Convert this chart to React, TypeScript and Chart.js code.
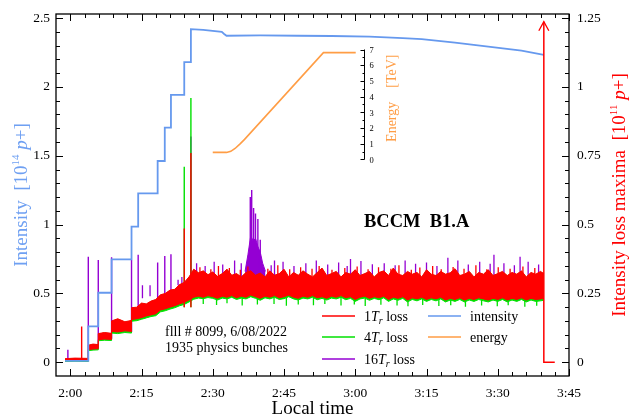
import React, { useEffect, useRef } from 'react';
import { Chart, registerables } from 'chart.js';
Chart.register(...registerables);

// ---------- axis ranges & ticks (minutes after 2:00) ----------
const X_RANGE = [-3, 105];
const X_TICK_VALUES = [0, 15, 30, 45, 60, 75, 90, 105];
const X_TICK_LABELS = ['2:00', '2:15', '2:30', '2:45', '3:00', '3:15', '3:30', '3:45'];
const LEFT_RANGE = [-0.1, 2.53];
const LEFT_TICK_VALUES = [0, 0.5, 1, 1.5, 2, 2.5];
const LEFT_TICK_LABELS = ['0', '0.5', '1', '1.5', '2', '2.5'];
const RIGHT_RANGE = [-0.05, 1.265];
const RIGHT_TICK_VALUES = [0, 0.25, 0.5, 0.75, 1, 1.25];
const RIGHT_TICK_LABELS = ['0', '0.25', '0.5', '0.75', '1', '1.25'];
const ENERGY_RANGE = [-13.78, 9.26];
const ENERGY_TICK_VALUES = [0, 1, 2, 3, 4, 5, 6, 7];
const ENERGY_TICK_LABELS = ['0', '1', '2', '3', '4', '5', '6', '7'];
const ENERGY_AXIS_T = 61.8;

// ---------- intensity [1e14 p+] ----------
const INJ_TIMES = [-1.1, 3.8, 5.9, 8.7, 12.9, 14.3, 18.4, 19.9, 21.2, 24.0, 25.4];
const INJ_LEVELS = [0.01, 0.26, 0.505, 0.748, 0.985, 1.227, 1.462, 1.704, 1.942, 2.18, 2.42];
const INT_TAIL_T = [28, 31.9, 32.4, 32.9, 40, 48, 55, 63, 70, 74, 81, 88, 95, 99.7];
const INT_TAIL_V = [2.415, 2.40, 2.385, 2.372, 2.374, 2.372, 2.37, 2.365, 2.355, 2.347, 2.322, 2.293, 2.264, 2.233];

// ---------- energy [TeV] ----------
const ENERGY_T = [30.0, 32.9, 33.8, 34.7, 35.7, 36.7, 53.3, 60.1];
const ENERGY_V = [0.45, 0.45, 0.52, 0.7, 0.98, 1.28, 6.8, 6.8];

// ---------- loss maxima envelopes [1e11 p+] ----------
const LOSS_T = [
  -1.1, 1.0, 3.8, 3.8, 4.8, 5.9, 5.9, 7.2, 8.7, 8.7, 10.0, 11.5, 12.9, 12.9,
  14, 15, 16, 17, 18, 19, 20, 21, 22, 23,
  24, 25, 26, 27, 28, 29, 30, 31, 32, 33,
  34, 35, 36, 37, 38, 39, 40, 41, 42, 43,
  44, 45, 46, 47, 48, 49, 50, 51, 52, 53,
  54, 55, 56, 57, 58, 59, 60, 61, 62, 63,
  64, 65, 66, 67, 68, 69, 70, 71, 72, 73,
  74, 75, 76, 77, 78, 79, 80, 81, 82, 83,
  84, 85, 86, 87, 88, 89, 90, 91, 92, 93,
  94, 95, 96, 97, 98, 99, 99.7,
];
const RED_HI = [
  0.013, 0.015, 0.014, 0.062, 0.066, 0.064, 0.104, 0.108, 0.105, 0.150, 0.158, 0.147, 0.152, 0.198,
  0.200, 0.215, 0.212, 0.222, 0.228, 0.245, 0.250, 0.262, 0.265, 0.282,
  0.290, 0.310, 0.338, 0.325, 0.332, 0.318, 0.328, 0.312, 0.322, 0.338,
  0.316, 0.322, 0.310, 0.326, 0.332, 0.316, 0.324, 0.310, 0.332, 0.316,
  0.322, 0.338, 0.310, 0.326, 0.316, 0.332, 0.320, 0.310, 0.326, 0.342,
  0.315, 0.322, 0.330, 0.310, 0.326, 0.320, 0.336, 0.315, 0.322, 0.330,
  0.310, 0.326, 0.332, 0.315, 0.342, 0.320, 0.315, 0.330, 0.320, 0.326,
  0.310, 0.336, 0.320, 0.315, 0.330, 0.320, 0.325, 0.340, 0.315, 0.320,
  0.330, 0.310, 0.326, 0.320, 0.336, 0.315, 0.322, 0.330, 0.315, 0.326,
  0.320, 0.332, 0.310, 0.326, 0.320, 0.330, 0.322,
];
const RED_LO = [
  0.006, 0.007, 0.006, 0.046, 0.048, 0.049, 0.082, 0.084, 0.083, 0.112, 0.110, 0.114, 0.112, 0.155,
  0.158, 0.162, 0.168, 0.172, 0.176, 0.190, 0.194, 0.200, 0.205, 0.212,
  0.218, 0.226, 0.236, 0.240, 0.236, 0.242, 0.238, 0.232, 0.240, 0.236,
  0.242, 0.234, 0.240, 0.236, 0.244, 0.238, 0.232, 0.240, 0.236, 0.242,
  0.234, 0.238, 0.244, 0.236, 0.232, 0.240, 0.236, 0.242, 0.234, 0.238,
  0.232, 0.240, 0.236, 0.242, 0.234, 0.238, 0.228, 0.236, 0.240, 0.232,
  0.238, 0.234, 0.240, 0.228, 0.236, 0.232, 0.238, 0.226, 0.234, 0.230,
  0.236, 0.228, 0.234, 0.230, 0.236, 0.226, 0.232, 0.228, 0.234, 0.226,
  0.232, 0.228, 0.234, 0.230, 0.226, 0.232, 0.228, 0.234, 0.226, 0.232,
  0.228, 0.234, 0.226, 0.232, 0.228, 0.230, 0.232,
];
const GREEN_LO = [
  0.003, 0.004, 0.003, 0.042, 0.044, 0.045, 0.078, 0.080, 0.079, 0.106, 0.104, 0.108, 0.106, 0.149,
  0.151, 0.156, 0.161, 0.166, 0.169, 0.183, 0.187, 0.193, 0.198, 0.205,
  0.210, 0.219, 0.229, 0.233, 0.231, 0.235, 0.232, 0.226, 0.233, 0.230,
  0.236, 0.228, 0.233, 0.230, 0.238, 0.232, 0.225, 0.234, 0.230, 0.236,
  0.228, 0.231, 0.238, 0.230, 0.226, 0.233, 0.230, 0.236, 0.227, 0.232,
  0.226, 0.233, 0.230, 0.236, 0.227, 0.232, 0.221, 0.230, 0.233, 0.225,
  0.232, 0.227, 0.234, 0.221, 0.230, 0.225, 0.232, 0.219, 0.228, 0.223,
  0.230, 0.221, 0.228, 0.223, 0.230, 0.219, 0.226, 0.221, 0.228, 0.219,
  0.226, 0.221, 0.228, 0.223, 0.219, 0.226, 0.221, 0.228, 0.219, 0.226,
  0.221, 0.228, 0.219, 0.226, 0.221, 0.223, 0.225,
];

// purple cluster around 2:38
const CLUSTER_T = [36.8, 37.4, 38.0, 38.5, 39.0, 39.5, 40.0, 40.5, 41.1];
const CLUSTER_HI = [0.33, 0.39, 0.46, 0.44, 0.45, 0.42, 0.40, 0.36, 0.33];
const CLUSTER_LO = [0.30, 0.30, 0.30, 0.30, 0.30, 0.30, 0.30, 0.30, 0.30];

// ---------- isolated loss spikes ----------
const PURPLE_SPIKE_T = [-0.5, 3.8, 5.9, 8.7, 12.9, 14.3, 18.4, 19.9, 21.2, 25.4, 37.9, 38.2, 38.6, 39.0, 39.5, 40.0];
const PURPLE_SPIKE_BASE = [0.004, 0.01, 0.05, 0.085, 0.11, 0.16, 0.18, 0.19, 0.2, 0.25, 0.3, 0.3, 0.3, 0.3, 0.3, 0.3];
const PURPLE_SPIKE_TOP = [0.045, 0.383, 0.371, 0.381, 0.371, 0.39, 0.362, 0.386, 0.392, 0.82, 0.6, 0.626, 0.56, 0.54, 0.52, 0.445];
const GREEN_SPIKE_T = [24.0, 25.4];
const GREEN_SPIKE_BASE = [0.2, 0.2];
const GREEN_SPIKE_TOP = [0.71, 0.96];
const RED_SPIKE_T = [2.4, 24.0, 25.4];
const RED_SPIKE_BASE = [0.006, 0.2, 0.2];
const RED_SPIKE_TOP = [0.13, 0.486, 0.76];

// noise tips poking out of the dense band
const PURPLE_TIP_T = [15.2, 16.8, 22.7, 23.5, 26.6, 28.4, 30.3, 32.1, 34.6, 36.0, 42.3, 43.0, 44.8, 47.1, 49.6, 51.8, 54.2, 56.5, 58.3, 59.0, 61.2, 63.6, 66.1, 68.4, 70.5, 72.7, 75.0, 77.2, 79.5, 81.6, 83.8, 86.2, 88.4, 89.2, 91.3, 93.5, 94.7, 96.4, 98.6];
const PURPLE_TIP_TOP = [0.232, 0.24, 0.30, 0.31, 0.36, 0.35, 0.365, 0.355, 0.37, 0.36, 0.352, 0.37, 0.365, 0.35, 0.36, 0.37, 0.355, 0.362, 0.35, 0.375, 0.368, 0.356, 0.36, 0.352, 0.37, 0.358, 0.362, 0.35, 0.38, 0.37, 0.355, 0.365, 0.358, 0.39, 0.36, 0.352, 0.383, 0.365, 0.355];
const RED_TIP_T = [27.3, 29.6, 31.2, 33.5, 35.8, 37.4, 41.6, 43.7, 46.2, 48.5, 50.9, 52.4, 55.1, 57.8, 60.4, 62.7, 64.9, 67.5, 69.2, 71.8, 73.6, 76.3, 78.1, 80.6, 82.9, 85.4, 87.7, 90.1, 92.6, 95.3, 97.8];
const RED_TIP_TOP = [0.345, 0.338, 0.35, 0.342, 0.336, 0.348, 0.34, 0.352, 0.338, 0.345, 0.34, 0.35, 0.336, 0.342, 0.348, 0.338, 0.345, 0.34, 0.352, 0.336, 0.344, 0.35, 0.338, 0.346, 0.34, 0.352, 0.338, 0.345, 0.34, 0.348, 0.342];
const GREEN_TIP_T = [28.0, 30.8, 33.0, 36.2, 39.4, 42.9, 45.5, 48.0, 51.2, 53.6, 57.0, 59.8, 62.1, 65.4, 68.8, 71.1, 74.2, 77.6, 80.1, 83.2, 86.6, 89.9, 92.2, 95.7, 98.2];
const GREEN_TIP_BOTTOM = [0.212, 0.208, 0.214, 0.206, 0.21, 0.212, 0.205, 0.21, 0.207, 0.212, 0.206, 0.21, 0.204, 0.209, 0.206, 0.203, 0.208, 0.204, 0.207, 0.202, 0.206, 0.203, 0.207, 0.202, 0.205];
const TIP_BASE = 0.28;

// beam dump: loss off-scale, then zero
const DUMP_T = [99.7, 99.7, 102.0];
const DUMP_V = [1.237, 0, 0];

// ---------- styling ----------
const SERIF = '"Liberation Serif", "DejaVu Serif", serif';
const C_BLUE = '#6699ee';
const C_RED = '#ff0000';
const C_GREEN = '#00e000';
const C_PURPLE = '#9400d3';
const C_ORANGE = '#ff9d45';

type Pt = { x: number; y: number | null };
const zip = (ts: number[], vs: number[]): Pt[] => ts.map((t, i) => ({ x: t, y: vs[i] }));
const spikes = (ts: number[], b: number[] | number, tp: number[]): Pt[] =>
  ts.flatMap((t, i) => [{ x: t, y: Array.isArray(b) ? b[i] : b }, { x: t, y: tp[i] }, { x: t, y: null }]);
const stepped = (): Pt[] => {
  const pts: Pt[] = [];
  INJ_TIMES.forEach((t, i) => {
    if (i > 0) pts.push({ x: t, y: INJ_LEVELS[i - 1] });
    pts.push({ x: t, y: INJ_LEVELS[i] });
  });
  INT_TAIL_T.forEach((t, i) => pts.push({ x: t, y: INT_TAIL_V[i] }));
  return pts;
};

type Seg = { t: string; f: string; dy?: number };
function richWidth(ctx: CanvasRenderingContext2D, segs: Seg[]) {
  let w = 0;
  for (const s of segs) { ctx.font = s.f; w += ctx.measureText(s.t).width; }
  return w;
}
function drawRich(ctx: CanvasRenderingContext2D, segs: Seg[], x: number, y: number, center: boolean) {
  let cx = center ? x - richWidth(ctx, segs) / 2 : x;
  for (const s of segs) {
    ctx.font = s.f;
    ctx.fillText(s.t, cx, y + (s.dy || 0));
    cx += ctx.measureText(s.t).width;
  }
}

const overlay = {
  id: 'overlay',
  afterDraw(chart: any) {
    const { ctx, chartArea: a, scales } = chart;
    const xs = scales.x, yl = scales.y, yr = scales.y2, ye = scales.yE;
    ctx.save();
    // frame
    ctx.strokeStyle = '#000';
    ctx.lineWidth = 1.3;
    ctx.strokeRect(a.left, a.top, a.right - a.left, a.bottom - a.top);
    ctx.lineWidth = 1;
    ctx.beginPath();
    for (let m = 0; m <= 105; m += 3) {
      const px = Math.round(xs.getPixelForValue(m)) + 0.5;
      const len = m % 15 === 0 ? 7 : 4;
      ctx.moveTo(px, a.bottom); ctx.lineTo(px, a.bottom - len);
      ctx.moveTo(px, a.top); ctx.lineTo(px, a.top + len);
    }
    for (let i = 0; i <= 25; i++) {
      const py = Math.round(yl.getPixelForValue(i / 10)) + 0.5;
      const len = i % 5 === 0 ? 7 : 4;
      ctx.moveTo(a.left, py); ctx.lineTo(a.left + len, py);
    }
    for (let i = 0; i <= 25; i++) {
      const py = Math.round(yr.getPixelForValue(i * 0.05)) + 0.5;
      const len = i % 5 === 0 ? 7 : 4;
      ctx.moveTo(a.right, py); ctx.lineTo(a.right - len, py);
    }
    ctx.stroke();

    // tick labels
    ctx.fillStyle = '#000';
    ctx.font = `13.5px ${SERIF}`;
    ctx.textBaseline = 'middle';
    ctx.textAlign = 'center';
    X_TICK_VALUES.forEach((v, i) => ctx.fillText(X_TICK_LABELS[i], xs.getPixelForValue(v), a.bottom + 17));
    ctx.textAlign = 'right';
    LEFT_TICK_VALUES.forEach((v, i) => ctx.fillText(LEFT_TICK_LABELS[i], a.left - 6, yl.getPixelForValue(v)));
    ctx.textAlign = 'left';
    RIGHT_TICK_VALUES.forEach((v, i) => ctx.fillText(RIGHT_TICK_LABELS[i], a.right + 8, yr.getPixelForValue(v)));

    // axis titles
    ctx.fillStyle = '#000';
    ctx.font = `19px ${SERIF}`;
    ctx.textAlign = 'center';
    ctx.fillText('Local time', (a.left + a.right) / 2, 409);
    ctx.textAlign = 'left';

    const big = `19px ${SERIF}`, bigI = `italic 19px ${SERIF}`, sup = `11px ${SERIF}`;
    ctx.save();
    ctx.translate(22, 195);
    ctx.rotate(-Math.PI / 2);
    ctx.fillStyle = '#6fa0f2';
    drawRich(ctx, [{ t: 'Intensity  [10', f: big }, { t: '14', f: sup, dy: -6 }, { t: ' ', f: big }, { t: 'p', f: bigI }, { t: '+]', f: big }], 0, 0, true);
    ctx.restore();

    ctx.save();
    ctx.translate(620, 195);
    ctx.rotate(-Math.PI / 2);
    ctx.fillStyle = C_RED;
    drawRich(ctx, [{ t: 'Intensity loss maxima  [10', f: big }, { t: '11', f: sup, dy: -6 }, { t: ' ', f: big }, { t: 'p', f: bigI }, { t: '+]', f: big }], 0, 0, true);
    ctx.restore();

    // energy inset axis
    const ex = Math.round(xs.getPixelForValue(ENERGY_AXIS_T)) + 0.5;
    ctx.strokeStyle = '#000';
    ctx.lineWidth = 1;
    ctx.beginPath();
    ctx.moveTo(ex, ye.getPixelForValue(0));
    ctx.lineTo(ex, ye.getPixelForValue(7));
    for (let i = 0; i <= 14; i++) {
      const py = Math.round(ye.getPixelForValue(i * 0.5)) + 0.5;
      const len = i % 2 === 0 ? 4 : 2;
      ctx.moveTo(ex, py); ctx.lineTo(ex - len, py);
    }
    ctx.stroke();
    ctx.fillStyle = '#000';
    ctx.font = `8.5px ${SERIF}`;
    ctx.textAlign = 'left';
    ENERGY_TICK_VALUES.forEach((v, i) => ctx.fillText(ENERGY_TICK_LABELS[i], ex + 5, ye.getPixelForValue(v) + 1));
    ctx.save();
    ctx.translate(ex + 28, ye.getPixelForValue(3.9));
    ctx.rotate(-Math.PI / 2);
    ctx.fillStyle = C_ORANGE;
    ctx.font = `14px ${SERIF}`;
    ctx.textAlign = 'center';
    ctx.fillText('Energy    [TeV]', 0, 0);
    ctx.restore();

    // dump arrow
    const dx = xs.getPixelForValue(DUMP_T[0]);
    const dy = yr.getPixelForValue(DUMP_V[0]);
    ctx.strokeStyle = C_RED;
    ctx.lineWidth = 1.3;
    ctx.beginPath();
    ctx.moveTo(dx - 5, dy + 9); ctx.lineTo(dx, dy); ctx.lineTo(dx + 5, dy + 9);
    ctx.stroke();

    // annotations
    ctx.fillStyle = '#000';
    ctx.textAlign = 'left';
    ctx.textBaseline = 'alphabetic';
    ctx.font = `bold 18.5px ${SERIF}`;
    ctx.fillText('BCCM  B1.A', 364, 227);
    ctx.font = `14px ${SERIF}`;
    ctx.fillText('flll # 8099, 6/08/2022', 165, 336);
    ctx.fillText('1935 physics bunches', 165, 352);

    // legend
    const n = `14px ${SERIF}`, it = `italic 14px ${SERIF}`, sub = `italic 10px ${SERIF}`;
    const leg: { c: string; x: number; y: number; segs: Seg[] }[] = [
      { c: C_RED, x: 322, y: 316, segs: [{ t: '1', f: n }, { t: 'T', f: it }, { t: 'r', f: sub, dy: 3 }, { t: ' loss', f: n }] },
      { c: C_GREEN, x: 322, y: 337, segs: [{ t: '4', f: n }, { t: 'T', f: it }, { t: 'r', f: sub, dy: 3 }, { t: ' loss', f: n }] },
      { c: C_PURPLE, x: 322, y: 359, segs: [{ t: '16', f: n }, { t: 'T', f: it }, { t: 'r', f: sub, dy: 3 }, { t: ' loss', f: n }] },
      { c: C_BLUE, x: 428, y: 316, segs: [{ t: 'intensity', f: n }] },
      { c: C_ORANGE, x: 428, y: 337, segs: [{ t: 'energy', f: n }] },
    ];
    for (const L of leg) {
      ctx.strokeStyle = L.c;
      ctx.lineWidth = 1.6;
      ctx.beginPath();
      ctx.moveTo(L.x, L.y); ctx.lineTo(L.x + 33, L.y);
      ctx.stroke();
      ctx.fillStyle = '#000';
      drawRich(ctx, L.segs, L.x + 42, L.y + 5, false);
    }
    ctx.restore();
  },
};

export default function App() {
  const ref = useRef<HTMLCanvasElement | null>(null);
  useEffect(() => {
    document.body.style.margin = '0';
    if (!ref.current) return;
    const line = (data: Pt[], color: string, axis: string, order: number, extra: any = {}) => ({
      type: 'line', data, borderColor: color, backgroundColor: color, borderWidth: 1,
      pointRadius: 0, yAxisID: axis, order, fill: false, spanGaps: false, ...extra,
    });
    const ds: any[] = [];
    // purple (16 Tr)
    ds.push(line(zip(CLUSTER_T, CLUSTER_LO), C_PURPLE, 'y2', 7, { borderWidth: 0 }));
    const cLo = ds.length - 1;
    ds.push(line(zip(CLUSTER_T, CLUSTER_HI), C_PURPLE, 'y2', 7, { fill: cLo, borderWidth: 1 }));
    ds.push(line(spikes(PURPLE_SPIKE_T, PURPLE_SPIKE_BASE, PURPLE_SPIKE_TOP), C_PURPLE, 'y2', 6, { borderWidth: 1.4 }));
    ds.push(line(spikes(PURPLE_TIP_T, TIP_BASE, PURPLE_TIP_TOP), C_PURPLE, 'y2', 6, { borderWidth: 1.3 }));
    // green (4 Tr)
    ds.push(line(zip(LOSS_T, GREEN_LO), C_GREEN, 'y2', 5, { borderWidth: 1 }));
    const gLo = ds.length - 1;
    ds.push(line(zip(LOSS_T, RED_HI), C_GREEN, 'y2', 5, { fill: gLo, borderWidth: 0 }));
    ds.push(line(spikes(GREEN_SPIKE_T, GREEN_SPIKE_BASE, GREEN_SPIKE_TOP), C_GREEN, 'y2', 4, { borderWidth: 1.4 }));
    ds.push(line(spikes(GREEN_TIP_T, TIP_BASE - 0.04, GREEN_TIP_BOTTOM), C_GREEN, 'y2', 4, { borderWidth: 1.3 }));
    // red (1 Tr)
    ds.push(line(zip(LOSS_T, RED_LO), C_RED, 'y2', 3, { borderWidth: 1 }));
    const rLo = ds.length - 1;
    ds.push(line(zip(LOSS_T, RED_HI), C_RED, 'y2', 3, { fill: rLo, borderWidth: 1 }));
    ds.push(line(spikes(RED_SPIKE_T, RED_SPIKE_BASE, RED_SPIKE_TOP), C_RED, 'y2', 2, { borderWidth: 1.4 }));
    ds.push(line(spikes(RED_TIP_T, TIP_BASE, RED_TIP_TOP), C_RED, 'y2', 2, { borderWidth: 1.3 }));
    // intensity & energy
    ds.push(line(stepped(), C_BLUE, 'y', 1, { borderWidth: 1.8 }));
    ds.push(line(zip(ENERGY_T, ENERGY_V), C_ORANGE, 'yE', 1, { borderWidth: 1.6 }));
    // dump
    ds.push(line(zip(DUMP_T, DUMP_V), C_RED, 'y2', 0, { borderWidth: 1.5 }));

    const hidden = { grid: { display: false }, border: { display: false }, ticks: { display: false } };
    const chart = new Chart(ref.current, {
      type: 'line',
      data: { datasets: ds },
      options: {
        animation: false,
        responsive: true,
        maintainAspectRatio: false,
        events: [],
        layout: { padding: { top: 14, left: 0, right: 0, bottom: 0 } },
        plugins: { legend: { display: false }, tooltip: { enabled: false } },
        scales: {
          x: { type: 'linear', min: X_RANGE[0], max: X_RANGE[1], ...hidden, afterFit: (s: any) => { s.height = 44; } },
          y: { type: 'linear', position: 'left', min: LEFT_RANGE[0], max: LEFT_RANGE[1], ...hidden, afterFit: (s: any) => { s.width = 56; } },
          y2: { type: 'linear', position: 'right', min: RIGHT_RANGE[0], max: RIGHT_RANGE[1], ...hidden, afterFit: (s: any) => { s.width = 67; } },
          yE: { type: 'linear', display: false, min: ENERGY_RANGE[0], max: ENERGY_RANGE[1] },
        },
      } as any,
      plugins: [overlay],
    } as any);
    return () => chart.destroy();
  }, []);
  return (
    <div style={{ width: 636, height: 420, position: 'relative', background: '#fff' }}>
      <canvas ref={ref} />
    </div>
  );
}
